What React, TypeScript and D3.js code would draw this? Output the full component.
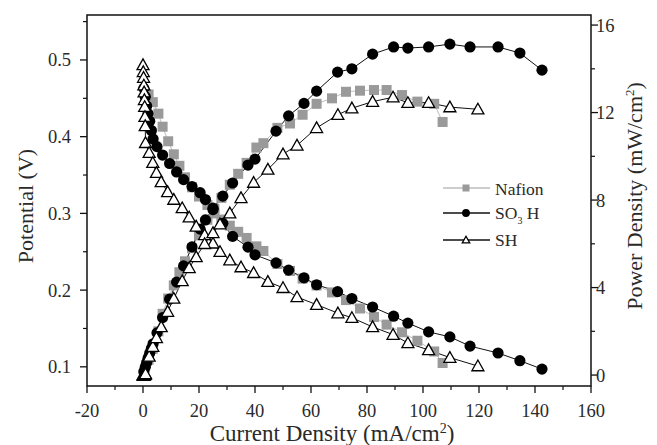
import React from "react";
import * as d3 from "d3";

// ---------- data ----------
const nafionCD = [2, 3.5, 5.5, 7, 9, 11, 13, 15, 17.5, 20, 23, 25.5, 28, 31, 34, 37, 40.5, 43, 48, 52.5, 57, 62, 67.5, 72.5, 77.5, 82.5, 87, 92.5, 98, 104, 107];
const nafionV = [0.455, 0.445, 0.43, 0.413, 0.394, 0.377, 0.362, 0.347, 0.334, 0.322, 0.311, 0.3, 0.292, 0.284, 0.276, 0.268, 0.257, 0.251, 0.234, 0.225, 0.215, 0.206, 0.197, 0.187, 0.176, 0.165, 0.155, 0.145, 0.134, 0.12, 0.105];
const nafionP = [0.7, 1.2, 2.0, 2.8, 3.5, 4.1, 4.7, 5.2, 5.8, 6.4, 7.1, 7.6, 8.1, 8.7, 9.2, 9.7, 10.4, 10.6, 11.3, 11.5, 11.9, 12.4, 12.65, 12.95, 13.0, 13.03, 13.03, 12.8, 12.5, 12.4, 11.57];

const so3hCD = [0.3, 0.8, 1.3, 1.8, 2.4, 3, 3.6, 5, 7, 9.5, 12, 14.5, 17.5, 20.4, 22.3, 25, 28.5, 32, 37.5, 40, 47.5, 52, 57.5, 62, 69.5, 74.6, 82, 89.5, 94.6, 102, 109.6, 116.8, 126.8, 134.6, 142.5];
const so3hV = [0.463, 0.452, 0.44, 0.43, 0.42, 0.408, 0.397, 0.387, 0.376, 0.365, 0.354, 0.344, 0.335, 0.327, 0.318, 0.305, 0.287, 0.27, 0.256, 0.246, 0.2355, 0.226, 0.216, 0.207, 0.198, 0.189, 0.178, 0.166, 0.157, 0.1456, 0.139, 0.127, 0.118, 0.108, 0.097];
const so3hP = [0.15, 0.36, 0.57, 0.77, 1.0, 1.22, 1.43, 1.93, 2.63, 3.47, 4.25, 4.99, 5.86, 6.67, 7.09, 7.63, 8.18, 8.78, 9.6, 9.87, 11.15, 11.85, 12.42, 12.98, 13.85, 14.0, 14.67, 15.0, 14.95, 15.0, 15.13, 15.0, 15.0, 14.72, 13.94];

const shCD = [0, 0.1, 0.2, 0.3, 0.4, 0.5, 0.6, 0.7, 0.8, 0.9, 2.2, 3.5, 4.8, 6.5, 8.8, 11, 14, 16.5, 19, 22, 25, 27.5, 31, 35, 39.5, 44.6, 50, 55, 62, 69.6, 74.6, 82, 89.3, 94.6, 102, 109.6, 119.6];
const shV = [0.4935, 0.4845, 0.477, 0.467, 0.458, 0.448, 0.439, 0.426, 0.414, 0.392, 0.379, 0.366, 0.353, 0.341, 0.328, 0.318, 0.307, 0.295, 0.283, 0.272, 0.261, 0.25, 0.239, 0.23, 0.2225, 0.211, 0.203, 0.191, 0.181, 0.17, 0.164, 0.152, 0.142, 0.131, 0.122, 0.112, 0.101];
const shP = [0, 0, 0, 0, 0, 0, 0.02, 0.03, 0.05, 0.05, 0.85, 1.3, 1.7, 2.2, 2.9, 3.5, 4.3, 4.9, 5.4, 6.0, 6.5, 6.9, 7.4, 8.1, 8.8, 9.4, 10.1, 10.5, 11.3, 11.9, 12.2, 12.5, 12.7, 12.45, 12.45, 12.25, 12.15];

const xTicks = [-20, 0, 20, 40, 60, 80, 100, 120, 140, 160];
const yLeftTicks = [0.1, 0.2, 0.3, 0.4, 0.5];
const yRightTicks = [0, 4, 8, 12, 16];

const W = 657, H = 445;
const L = 87, R = 591, T = 15, B = 386;
const FONT = "'Liberation Serif', 'Times New Roman', serif";
const TXT = "#2a2a2a";

export default function App() {
  const x = d3.scaleLinear().domain([-20, 160]).range([L, R]);
  const yL = d3.scaleLinear().domain([0.075, 0.5586]).range([B, T]);
  const yR = d3.scaleLinear().domain([-0.5, 16.46]).range([B, T]);

  const mk = (cd: number[], vals: number[]) => cd.map((c, i) => [c, vals[i]] as [number, number]);
  const lineL = d3.line<[number, number]>().x(d => x(d[0])).y(d => yL(d[1]));
  const lineR = d3.line<[number, number]>().x(d => x(d[0])).y(d => yR(d[1]));

  const series = [
    { name: "nafion", cd: nafionCD, v: nafionV, p: nafionP },
    { name: "so3h", cd: so3hCD, v: so3hV, p: so3hP },
    { name: "sh", cd: shCD, v: shV, p: shP },
  ];

  const marker = (name: string, cx: number, cy: number, k: number, s = 1) => {
    if (name === "nafion") {
      const h = 5 * s;
      return <rect key={k} x={cx - h} y={cy - h} width={2 * h} height={2 * h} fill="#9a9a9a" />;
    }
    if (name === "so3h") {
      return <circle key={k} cx={cx} cy={cy} r={5.6 * s} fill="#000" />;
    }
    const a = 6 * s;
    const pts = `${cx},${cy - a} ${cx - a},${cy + a * 0.78} ${cx + a},${cy + a * 0.78}`;
    return <polygon key={k} points={pts} fill="#fff" stroke="#000" strokeWidth={1.3} />;
  };

  const lineColor = (n: string) => (n === "nafion" ? "#bdbdbd" : "#111");

  const xMinor = d3.range(-10, 160, 20);
  const yLMinor = d3.range(0.15, 0.56, 0.1);
  const yRMinor = [2, 6, 10, 14];

  return (
    <svg width={W} height={H} style={{ position: "absolute", left: 0, top: 0, display: "block", background: "#fff" }}>
      {/* data lines */}
      {series.map(s => (
        <g key={s.name + "l"}>
          <path d={lineL(mk(s.cd, s.v)) || ""} fill="none" stroke={lineColor(s.name)} strokeWidth={1} />
          <path d={lineR(mk(s.cd, s.p)) || ""} fill="none" stroke={lineColor(s.name)} strokeWidth={1} />
        </g>
      ))}
      {/* markers */}
      {series.map(s => (
        <g key={s.name + "m"}>
          {s.cd.map((c, i) => marker(s.name, x(c), yL(s.v[i]), i))}
          {s.cd.map((c, i) => marker(s.name, x(c), yR(s.p[i]), 1000 + i))}
        </g>
      ))}

      {/* frame */}
      <rect x={L} y={T} width={R - L} height={B - T} fill="none" stroke="#111" strokeWidth={1.5} />

      {/* bottom axis */}
      {xTicks.map(t => (
        <g key={"xt" + t}>
          <line x1={x(t)} x2={x(t)} y1={B} y2={B + 7} stroke="#111" strokeWidth={1.3} />
          <text x={x(t)} y={417} textAnchor="middle" fontFamily={FONT} fontSize={18.5} fill={TXT}>{t}</text>
        </g>
      ))}
      {xMinor.map(t => (
        <line key={"xm" + t} x1={x(t)} x2={x(t)} y1={B} y2={B + 4} stroke="#111" strokeWidth={1.2} />
      ))}

      {/* left axis */}
      {yLeftTicks.map(t => (
        <g key={"yl" + t}>
          <line x1={L - 7} x2={L} y1={yL(t)} y2={yL(t)} stroke="#111" strokeWidth={1.3} />
          <text x={71} y={yL(t) + 6.5} textAnchor="end" fontFamily={FONT} fontSize={18.5} fill={TXT}>{t.toFixed(1)}</text>
        </g>
      ))}
      {yLMinor.map(t => (
        <line key={"ylm" + t} x1={L - 4} x2={L} y1={yL(t)} y2={yL(t)} stroke="#111" strokeWidth={1.2} />
      ))}

      {/* right axis */}
      {yRightTicks.map(t => (
        <g key={"yr" + t}>
          <line x1={R} x2={R + 7} y1={yR(t)} y2={yR(t)} stroke="#111" strokeWidth={1.3} />
          <text x={596} y={yR(t) + 6.5} textAnchor="start" fontFamily={FONT} fontSize={18.5} fill={TXT}>{t}</text>
        </g>
      ))}
      {yRMinor.map(t => (
        <line key={"yrm" + t} x1={R} x2={R + 4} y1={yR(t)} y2={yR(t)} stroke="#111" strokeWidth={1.2} />
      ))}

      {/* axis titles */}
      <text x={332} y={441} textAnchor="middle" fontFamily={FONT} fontSize={23} fill={TXT}>
        Current Density (mA/cm<tspan dy={-8} fontSize={14}>2</tspan><tspan dy={8}>)</tspan>
      </text>
      <text transform={`translate(33,${206}) rotate(-90)`} textAnchor="middle" fontFamily={FONT} fontSize={22} fill={TXT}>
        Potential (V)
      </text>
      <text transform={`translate(642,${196}) rotate(-90)`} textAnchor="middle" fontFamily={FONT} fontSize={22} fill={TXT}>
        Power Density (mW/cm<tspan dy={-8} fontSize={13}>2</tspan><tspan dy={8}>)</tspan>
      </text>

      {/* legend */}
      {[
        { name: "nafion", y: 188 },
        { name: "so3h", y: 213 },
        { name: "sh", y: 240 },
      ].map((l, i) => (
        <g key={"lg" + i}>
          <line x1={443} x2={490} y1={l.y} y2={l.y} stroke={l.name === "nafion" ? "#bdbdbd" : "#111"} strokeWidth={1.5} />
          {marker(l.name, 466, l.y, 0, l.name === "sh" ? 0.62 : 0.7)}
        </g>
      ))}
      <text x={495} y={195} fontFamily={FONT} fontSize={17.5} fill={TXT}>Nafion</text>
      <text x={495} y={219} fontFamily={FONT} fontSize={17.5} fill={TXT}>
        SO<tspan dy={5} fontSize={10}>3</tspan><tspan dy={-5}> H</tspan>
      </text>
      <text x={495} y={246} fontFamily={FONT} fontSize={17.5} fill={TXT}>SH</text>
    </svg>
  );
}
